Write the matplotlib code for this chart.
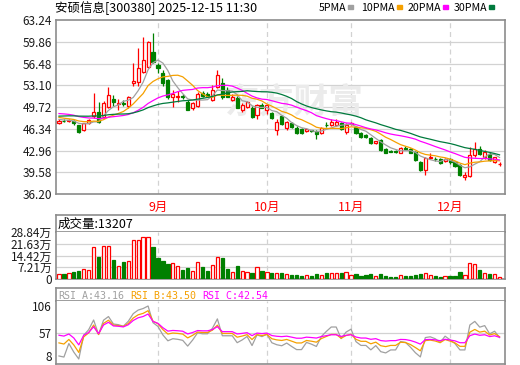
import numpy as np
import pandas as pd
import matplotlib
matplotlib.use("Agg")
import matplotlib.pyplot as plt
from matplotlib.patches import Rectangle
from matplotlib.transforms import ScaledTranslation

plt.rcParams["font.family"] = ["Noto Sans CJK SC", "DejaVu Sans"]

W, H = 520, 365

title = "安硕信息[300380] 2025-12-15 11:30"
months = ["9月", "10月", "11月", "12月"]
month_start = [20, 42, 59, 79]
price_ticks = [63.24, 59.86, 56.48, 53.10, 49.72, 46.34, 42.96, 39.58, 36.20]
vol_ticks = [0, 7.21, 14.42, 21.63, 28.84]
vol_labels = ["0", "7.21万", "14.42万", "21.63万", "28.84万"]
rsi_labels = ["8", "57", "106"]
rsi_names = ["RSI_A:43.16", "RSI_B:43.50", "RSI_C:42.54"]
ma_names = ["5PMA", "10PMA", "20PMA", "30PMA"]
last_vol = 13207

# closes before the first bar shown (only feed the MA / RSI lines)
pre_close = [46.8, 47.0, 47.3, 47.1, 47.5, 47.8, 47.6, 47.9, 48.0, 48.0,
             48.6, 49.2, 49.8, 50.1, 49.7, 49.5, 49.3, 49.1, 48.9, 48.8,
             48.7, 48.6, 48.3, 48.2, 48.2, 48.0, 47.9, 47.8, 47.7]

opens = [47.3, 47.6, 47.5, 47.5, 46.9, 46.1, 47.2, 48.3, 48.9, 48.2,
         49.7, 51.0, 50.2, 50.4, 49.8, 53.4, 53.6, 55.2, 55.9, 58.3,
         56.2, 55.0, 53.9, 51.3, 51.2, 51.5, 50.5, 49.6, 49.9, 51.9,
         51.7, 50.8, 52.8, 53.4, 52.4, 50.8, 51.1, 49.3, 49.7, 49.6,
         48.5, 50.0, 49.3, 48.8, 46.1, 48.3, 46.4, 47.2, 46.5, 46.3,
         46.0, 46.1, 46.0, 45.7, 47.0, 46.9, 47.0, 47.2, 45.8, 47.1,
         46.6, 45.7, 45.4, 44.9, 44.1, 44.6, 43.2, 42.9, 42.9, 42.6,
         43.4, 43.2, 42.7, 41.2, 39.9, 41.8, 41.7, 41.6, 41.4, 41.6,
         41.2, 40.7, 38.9, 39.0, 42.3, 43.2, 41.9, 42.4, 41.2, 40.8]
highs = [47.8, 47.8, 47.9, 47.7, 47.0, 47.3, 47.9, 51.9, 50.5, 50.6,
         52.8, 51.6, 51.0, 50.8, 51.4, 56.6, 58.9, 60.6, 60.0, 61.2,
         56.5, 55.5, 54.0, 52.4, 52.2, 51.8, 50.8, 50.5, 52.0, 52.2,
         52.0, 53.2, 55.5, 54.2, 52.8, 51.8, 51.4, 50.3, 50.6, 49.8,
         50.2, 50.4, 50.2, 49.0, 47.8, 48.5, 47.6, 47.4, 46.7, 46.5,
         46.4, 46.2, 46.1, 46.6, 47.4, 47.9, 47.9, 47.4, 47.3, 47.4,
         46.8, 45.9, 45.6, 45.1, 44.5, 44.8, 43.3, 43.1, 43.0, 43.5,
         43.6, 43.4, 42.9, 41.4, 42.0, 42.5, 41.9, 41.8, 41.8, 41.8,
         41.3, 40.8, 39.6, 43.5, 44.3, 43.6, 43.0, 42.7, 42.0, 41.2]
lows = [47.1, 47.4, 47.4, 47.0, 45.7, 46.0, 47.1, 48.0, 47.3, 48.0,
        49.5, 49.8, 49.2, 49.8, 49.6, 53.0, 53.0, 55.0, 55.8, 56.5,
        55.0, 53.0, 51.0, 49.7, 50.5, 51.0, 49.2, 49.3, 49.7, 51.3,
        51.3, 50.6, 52.6, 51.0, 51.2, 50.7, 49.5, 48.9, 49.5, 48.0,
        47.8, 49.5, 48.7, 47.9, 45.4, 47.0, 46.2, 46.5, 45.6, 45.6,
        45.9, 45.8, 44.7, 45.5, 46.6, 46.7, 46.8, 46.2, 45.6, 46.9,
        45.6, 44.9, 44.9, 44.0, 44.0, 42.9, 42.5, 42.7, 42.6, 42.5,
        43.0, 42.5, 41.4, 39.8, 39.2, 41.6, 41.4, 40.9, 41.2, 40.9,
        40.4, 39.0, 38.4, 38.8, 42.0, 42.2, 41.7, 41.4, 41.0, 40.6]
closes = [47.6, 47.5, 47.7, 47.2, 45.9, 47.2, 47.7, 49.0, 47.4, 50.3,
          51.6, 50.5, 50.4, 50.2, 51.2, 53.7, 55.8, 57.0, 59.8, 56.7,
          55.8, 53.4, 51.2, 51.7, 51.5, 51.2, 49.3, 50.3, 51.7, 51.5,
          51.5, 52.4, 54.7, 51.3, 51.3, 51.3, 49.6, 50.0, 50.5, 48.2,
          50.0, 49.6, 50.0, 48.0, 47.4, 47.1, 47.4, 46.6, 45.7, 45.7,
          46.3, 46.0, 45.6, 46.4, 46.9, 47.4, 47.4, 46.3, 46.9, 47.2,
          45.7, 45.0, 45.0, 44.1, 44.4, 43.0, 42.6, 42.8, 42.8, 43.3,
          43.2, 42.6, 41.5, 39.9, 41.8, 41.9, 41.6, 41.0, 41.6, 41.1,
          40.5, 39.1, 39.1, 42.3, 43.2, 42.4, 42.7, 41.5, 41.9, 40.9]
# volume in 万
volume = [3.1, 3.1, 3.7, 4.5, 4.9, 6.0, 5.3, 19.7, 13.6, 20.3,
          20.3, 11.7, 8.0, 10.5, 11.1, 24.0, 24.0, 25.9, 25.9, 19.7,
          12.9, 11.1, 9.4, 9.9, 8.0, 5.5, 6.8, 4.9, 10.5, 7.4,
          4.9, 8.6, 13.6, 12.9, 6.2, 4.3, 8.0, 4.9, 4.3, 3.7,
          7.4, 4.9, 4.3, 3.7, 3.7, 3.7, 3.1, 2.5, 2.5, 1.8,
          2.5, 1.8, 3.1, 2.5, 3.7, 3.7, 3.7, 3.7, 4.3, 2.5,
          3.1, 1.8, 2.5, 3.1, 1.8, 3.1, 1.8, 1.2, 1.2, 2.5,
          1.8, 1.8, 2.5, 3.1, 3.7, 2.5, 1.8, 1.2, 1.8, 1.8,
          1.8, 4.3, 2.5, 9.9, 9.2, 5.5, 3.7, 3.1, 3.1, 1.32]

UP = "#ff0000"
DOWN = "#008000"
ma_colors = {5: "#a0a0a0", 10: "#f5a000", 20: "#ff00ff", 30: "#007a3d"}
rsi_colors = ["#a0a0a0", "#f5a000", "#ff00ff"]
SPINE = "#8c8c8c"
GRID = "#d2d2d2"

n = len(closes)
x = np.arange(n)
o, h, l, c = map(np.array, (opens, highs, lows, closes))
up = c >= o

all_close = pd.Series(pre_close + closes)
ma = {k: all_close.rolling(k).mean().values[-n:] for k in ma_colors}


def sma_cn(vals, k):
    out = []
    y = vals[0]
    for v in vals:
        y = (v + (k - 1) * y) / k
        out.append(y)
    return np.array(out)


diff = all_close.diff().fillna(0).values
rsi = []
for k in (6, 12, 24):
    a = sma_cn(np.maximum(diff, 0), k)
    b = sma_cn(np.abs(diff), k)
    rsi.append((a / np.where(b == 0, 1, b) * 100)[-n:])

fig = plt.figure(figsize=(W / 100, H / 100), dpi=100)


def px_axes(x0, y0, x1, y1):
    return fig.add_axes([x0 / W, 1 - y1 / H, (x1 - x0) / W, (y1 - y0) / H])


def style(ax):
    for s in ax.spines.values():
        s.set_color(SPINE)
        s.set_linewidth(1.2)
    ax.tick_params(length=0, labelsize=8.5, colors="#1a1a1a", pad=3)


XL = (-0.6, 90.1)

# ---- price panel ----
ax = px_axes(56, 20, 505, 194)
style(ax)
ax.set_xlim(*XL)
ax.set_ylim(36.20, 63.24)
ax.set_yticks(price_ticks)
ax.set_yticklabels([f"{t:.2f}" for t in price_ticks])
for t in price_ticks[1:-1]:
    ax.axhline(t, color=GRID, lw=0.9, zorder=0)
for m in month_start:
    ax.axvline(m, color=GRID, lw=0.9, ls=(0, (4, 3)), zorder=0)
ax.set_xticks(month_start)
ax.set_xticklabels(months, color=UP, fontsize=9)
ax.tick_params(axis="x", pad=5)
ax.text(0.53, 0.53, "东方财富", transform=ax.transAxes, fontsize=25,
        fontweight="bold", color="#ebebeb", ha="center", va="center", zorder=0)

ax.vlines(x, l, h, colors=np.where(up, UP, DOWN), lw=0.9, zorder=2)
body = np.maximum(np.abs(c - o), 0.06)
ax.bar(x, body, bottom=np.minimum(o, c), width=0.62,
       color=np.where(up, "white", DOWN), edgecolor=np.where(up, UP, DOWN),
       linewidth=0.9, zorder=3)
for k, col in ma_colors.items():
    ax.plot(x, ma[k], color=col, lw=0.9, zorder=4)

# ---- volume panel ----
hv = px_axes(56, 215, 505, 232)
style(hv)
hv.set_xticks([])
hv.set_yticks([])
hv.text(2 / 449, 0.45, f"成交量:{last_vol}", transform=hv.transAxes,
        fontsize=9, va="center", ha="left")

av = px_axes(56, 232, 505, 279)
style(av)
av.spines["top"].set_visible(False)
av.set_xlim(*XL)
av.set_ylim(0, 28.84)
av.set_yticks(vol_ticks)
av.set_yticklabels(vol_labels)
av.set_xticks([])
for t in vol_ticks[1:-1]:
    av.axhline(t, color=GRID, lw=0.9, zorder=0)
for m in month_start:
    av.axvline(m, color=GRID, lw=0.9, ls=(0, (4, 3)), zorder=0)
av.bar(x, volume, width=0.66, color=np.where(up, "white", DOWN),
       edgecolor=np.where(up, UP, DOWN), linewidth=0.9, zorder=3)

# ---- RSI panel ----
hr = px_axes(56, 288, 505, 301)
style(hr)
hr.set_xticks([])
hr.set_yticks([])
for name, col, px in zip(rsi_names, rsi_colors, [2, 74, 146]):
    hr.text(px / 449, 0.45, name, transform=hr.transAxes, fontsize=7.2,
            family="DejaVu Sans Mono", color=col, va="center", ha="left")

ar = px_axes(56, 301, 505, 364)
style(ar)
ar.spines["top"].set_visible(False)
ar.set_xlim(*XL)
# the site labels the panel at the data low / middle / high
lo = min(r.min() for r in rsi)
hi = max(r.max() for r in rsi)
pad = (hi - lo) * 5 / 53
ar.set_ylim(lo - pad, hi + pad)
ar.set_yticks([lo, (lo + hi) / 2, hi])
ar.set_yticklabels(rsi_labels)
ar.set_xticks([])
ar.axhline((lo + hi) / 2, color=GRID, lw=0.9, zorder=0)
for m in month_start:
    ar.axvline(m, color=GRID, lw=0.9, ls=(0, (4, 3)), zorder=0)
for r, col in zip(rsi, rsi_colors):
    ar.plot(x, r, color=col, lw=0.9)
# lowest label sits on the figure edge, lift it a little
lab8 = ar.get_yticklabels()[0]
lab8.set_transform(lab8.get_transform() + ScaledTranslation(0, 0.03, fig.dpi_scale_trans))

# ---- title and legend ----
fig.text(55 / W, 1 - 8 / H, title, fontsize=9, va="center", ha="left")
for lab, col, sq in zip(ma_names, ma_colors.values(), [348, 397, 443, 489]):
    fig.text((sq - 2) / W, 1 - 8 / H, lab, fontsize=7.6, va="center", ha="right")
    fig.patches.append(Rectangle((sq / W, 1 - 9 / H), 5 / W, 3.5 / H,
                                 transform=fig.transFigure, color=col))

fig.savefig("out.png", dpi=100)
